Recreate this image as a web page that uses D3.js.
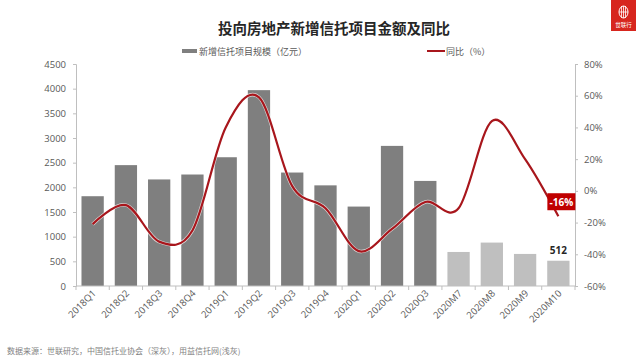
<!DOCTYPE html>
<html><head><meta charset="utf-8">
<script src="https://cdn.jsdelivr.net/npm/d3@7"></script>
<style>
body{margin:0;background:#fff;}
svg{display:block;font-family:"Noto Sans CJK SC","Noto Sans",sans-serif;}
</style></head>
<body><svg id="c" width="641" height="361"></svg>
<script>
const categories = ["2018Q1","2018Q2","2018Q3","2018Q4","2019Q1","2019Q2","2019Q3","2019Q4","2020Q1","2020Q2","2020Q3","2020M7","2020M8","2020M9","2020M10"];
const amounts = [1820,2450,2160,2260,2610,3970,2300,2040,1610,2840,2130,690,880,650,512];
const yoy = [-21,-9,-32,-25,40,59,3,-11,-38,-24,-7,-11,44,20,-16];
const isMonthly = [0,0,0,0,0,0,0,0,0,0,0,1,1,1,1];
const leftTicks = [0,500,1000,1500,2000,2500,3000,3500,4000,4500];
const rightTicks = [-60,-40,-20,0,20,40,60,80];
const title = "投向房地产新增信托项目金额及同比";
const legendBar = "新增信托项目规模（亿元）";
const legendLine = "同比（%）";
const source = "数据来源：世联研究，中国信托业协会（深灰），用益信托网(浅灰)";

const svg = d3.select("#c");
const L = 76, R = 575, T = 64, B = 286;
const x = d3.scaleBand().domain(categories).range([L, R]).paddingInner(0.33).paddingOuter(0.165);
const yL = d3.scaleLinear().domain([0, 4500]).range([B, T]);
const yR = d3.scaleLinear().domain([-60, 80]).range([B, T]);
const axisColor = "#bfbfbf", textColor = "#595959";

// title
svg.append("text").attr("x", 334).attr("y", 34).attr("text-anchor", "middle")
  .attr("font-size", 14.5).attr("font-weight", "bold").attr("fill", "#262626").text(title);

// logo
const lg = svg.append("g");
lg.append("rect").attr("x", 611).attr("y", 0).attr("width", 25).attr("height", 31).attr("fill", "#d7261e");
lg.append("ellipse").attr("cx", 623.5).attr("cy", 12).attr("rx", 4.5).attr("ry", 6)
  .attr("fill", "none").attr("stroke", "#fff").attr("stroke-width", 1);
[-2, 0, 2].forEach(dx => lg.append("line").attr("x1", 623.5 + dx).attr("x2", 623.5 + dx)
  .attr("y1", 6).attr("y2", 18).attr("stroke", "#fff").attr("stroke-width", 0.8));
lg.append("line").attr("x1", 619).attr("x2", 628).attr("y1", 12).attr("y2", 12).attr("stroke", "#fff").attr("stroke-width", 0.8);
lg.append("text").attr("x", 623.5).attr("y", 27).attr("text-anchor", "middle").attr("font-size", 5.5)
  .attr("fill", "#fff").text("世联行");

// legend
svg.append("rect").attr("x", 182).attr("y", 49).attr("width", 15).attr("height", 4).attr("fill", "#7f7f7f");
svg.append("text").attr("x", 199).attr("y", 54.5).attr("font-size", 9).attr("fill", textColor).text(legendBar);
svg.append("line").attr("x1", 427).attr("x2", 445).attr("y1", 51).attr("y2", 51).attr("stroke", "#a8161c").attr("stroke-width", 2);
svg.append("text").attr("x", 446).attr("y", 54.5).attr("font-size", 9).attr("fill", textColor).text(legendLine);

// bars
svg.selectAll("rect.bar").data(categories).enter().append("rect").attr("class", "bar")
  .attr("x", d => x(d)).attr("width", x.bandwidth())
  .attr("y", (d, i) => yL(amounts[i])).attr("height", (d, i) => B - yL(amounts[i]))
  .attr("fill", (d, i) => isMonthly[i] ? "#bfbfbf" : "#7f7f7f");

// axes
const gl = svg.append("g").attr("transform", `translate(${L},0)`)
  .call(d3.axisLeft(yL).tickValues(leftTicks).tickSize(3).tickPadding(7).tickFormat(d3.format("d")));
const gr = svg.append("g").attr("transform", `translate(${R},0)`)
  .call(d3.axisRight(yR).tickValues(rightTicks).tickSize(3).tickPadding(6).tickFormat(d => d + "%"));
const gb = svg.append("g").attr("transform", `translate(0,${B})`);
gb.append("line").attr("x1", L).attr("x2", R).attr("stroke", axisColor);
const bounds = d3.range(categories.length + 1).map(i => L + i * (R - L) / categories.length);
gb.selectAll("line.t").data(bounds).enter().append("line").attr("class", "t")
  .attr("x1", d => d).attr("x2", d => d).attr("y1", 0).attr("y2", 4).attr("stroke", axisColor);
gb.selectAll("text").data(categories).enter().append("text")
  .attr("transform", d => `translate(${x(d) + x.bandwidth() / 2 + 4},${8}) rotate(-45)`)
  .attr("text-anchor", "end").attr("font-size", 9.5).attr("fill", textColor).text(d => d);

[gl, gr].forEach(g => {
  g.select(".domain").attr("stroke", axisColor);
  g.selectAll(".tick line").attr("stroke", axisColor);
  g.selectAll(".tick text").attr("fill", textColor).attr("font-size", 9.5)
    .attr("font-family", "'Open Sans','Noto Sans',sans-serif");
});
gb.selectAll("text").attr("font-family", "'Open Sans','Noto Sans',sans-serif");

// line
const line = d3.line().curve(d3.curveCardinal.tension(0))
  .x((d, i) => x(categories[i]) + x.bandwidth() / 2).y(d => yR(d));
svg.append("path").datum(yoy).attr("d", line).attr("fill", "none")
  .attr("stroke", "#fff").attr("stroke-width", 3.5).attr("stroke-opacity", 0.7);
svg.append("path").datum(yoy).attr("d", line).attr("fill", "none")
  .attr("stroke", "#a8161c").attr("stroke-width", 2.2);

// labels
const lastI = categories.length - 1;
const lx = x(categories[lastI]) + x.bandwidth() / 2;
svg.append("rect").attr("x", lx - 11).attr("y", yR(yoy[lastI]) - 23).attr("width", 28).attr("height", 17)
  .attr("fill", "#c00000");
svg.append("text").attr("x", lx + 3).attr("y", yR(yoy[lastI]) - 10.5).attr("text-anchor", "middle")
  .attr("font-size", 10).attr("font-weight", "bold").attr("fill", "#fff")
  .attr("font-family", "'Open Sans','Noto Sans',sans-serif").text(yoy[lastI] + "%");
svg.append("text").attr("x", lx).attr("y", yL(amounts[lastI]) - 7).attr("text-anchor", "middle")
  .attr("font-size", 10).attr("font-weight", "bold").attr("fill", "#262626")
  .attr("font-family", "'Open Sans','Noto Sans',sans-serif").text(amounts[lastI]);

// source
svg.append("text").attr("x", 7).attr("y", 354).attr("font-size", 8).attr("fill", "#7f7f7f").text(source);
</script></body></html>
